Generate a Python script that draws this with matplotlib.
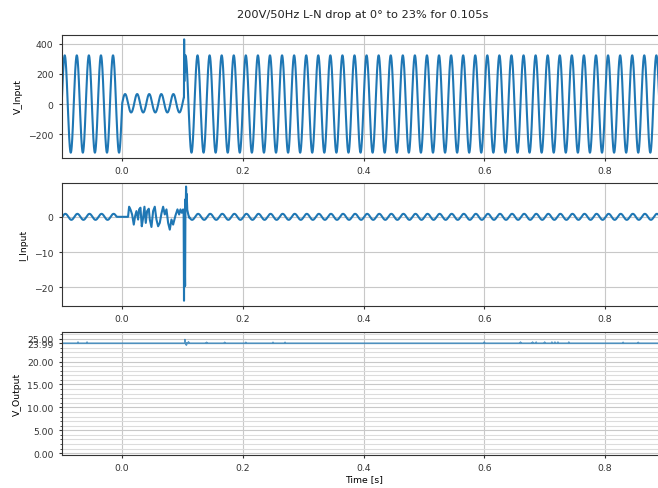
import numpy as np
import matplotlib
matplotlib.use("Agg")
import matplotlib.pyplot as plt
from matplotlib.ticker import FormatStrFormatter, MultipleLocator, FixedLocator

# ---------------- data ----------------
title = "200V/50Hz L-N drop at 0\u00b0 to 23% for 0.105s"
x_ticks = [0.0, 0.2, 0.4, 0.6, 0.8]
t_start, t_end = -0.1, 0.9
line_freq = 50.0                      # Hz

# input voltage
v_peak_normal = 322.0                 # V, normal sine peak
v_drop_pos_peak = 66.0                # V, positive peak during sag
v_drop_neg_peak = -56.0               # V, negative peak during sag
v_drop_start, v_drop_end = 0.0, 0.1025
v_spike_t = [0.1025, 0.1028, 0.1031, 0.1034, 0.1037, 0.1040]
v_spike_v = [45.0, 428.0, 150.0, 280.0, 210.0, 300.0]

# input current
i_ripple_amp = 0.85                   # A
i_ripple_peak_t = 0.006               # s, time of a ripple maximum
i_flat_start, i_flat_end = -0.009, 0.0099
i_burst_t = [0.0099, 0.01166, 0.01387, 0.01663, 0.01939, 0.0216, 0.02381, 0.02657,
             0.02823, 0.03044, 0.03265, 0.03486, 0.03707, 0.03928, 0.04149, 0.04425,
             0.04591, 0.04867, 0.05143, 0.05419, 0.05695, 0.05972, 0.06248, 0.06524,
             0.068, 0.07077, 0.07353, 0.07629, 0.07905, 0.08181, 0.08457, 0.08845,
             0.09176, 0.09452, 0.09673, 0.09894, 0.10115, 0.1020, 0.1023, 0.1026,
             0.1029, 0.1032, 0.1035, 0.1038, 0.1041, 0.1044, 0.1047, 0.1050,
             0.1055, 0.1060, 0.1065, 0.1070, 0.1080, 0.1095, 0.1110]
i_burst_v = [0.0, 2.87, 2.11, 0.67, -2.2, 0.19, 1.63, -0.77,
             2.11, 2.59, -2.68, -0.29, 2.87, -1.72, 1.63, 2.3,
             -0.77, -2.87, 1.63, 2.87, -0.77, -2.68, -1.72, 0.96,
             2.87, 0.67, 2.11, -1.72, -3.64, -0.77, -2.2, 0.38,
             2.11, 0.67, 2.11, 1.15, 2.11, 1.0, -10.0, -23.8,
             -12.0, -19.8, -14.0, -19.5, -16.0, -19.6, -3.0, 5.0,
             2.0, 8.6, 4.0, 6.5, 2.0, 0.8, -0.2]

# output voltage
v_out_level = 23.99
v_out_blip_t = [-0.073, -0.058, 0.104, 0.1065, 0.110, 0.14, 0.17, 0.205, 0.25,
                0.27, 0.60, 0.66, 0.68, 0.686, 0.70, 0.712, 0.717, 0.722, 0.74,
                0.83, 0.855]
v_out_blip_v = [0.25, 0.25, 0.8, -0.4, 0.3, 0.2, 0.2, 0.2, 0.2,
                0.2, 0.25, 0.25, 0.25, 0.25, 0.25, 0.25, 0.25, 0.25, 0.25,
                0.2, 0.2]

y_out_ticks = [0.0, 5.0, 10.0, 15.0, 20.0, 25.0, 23.99]

# ---------------- build the traces ----------------
dt = 0.0001
t = np.arange(t_start, t_end + dt / 2, dt)
w = 2 * np.pi * line_freq
s = np.sin(w * t)

v_in = v_peak_normal * s
in_drop = (t >= v_drop_start) & (t < v_drop_end)
v_in[in_drop] = np.where(s[in_drop] >= 0, v_drop_pos_peak * s[in_drop],
                         -v_drop_neg_peak * s[in_drop])
t_v = np.concatenate([t[t < v_spike_t[0]], v_spike_t, t[t > v_spike_t[-1]]])
v_v = np.concatenate([v_in[t < v_spike_t[0]], v_spike_v, v_in[t > v_spike_t[-1]]])

i_in = i_ripple_amp * np.cos(w * (t - i_ripple_peak_t))
flat = (t >= i_flat_start) & (t < i_flat_end)
t_i = np.concatenate([t[t < i_flat_start], t[flat], i_burst_t, t[t > i_burst_t[-1]]])
v_i = np.concatenate([i_in[t < i_flat_start], np.zeros(flat.sum()), i_burst_v,
                      i_in[t > i_burst_t[-1]]])

v_out = np.full_like(t, v_out_level)
for bt, bv in zip(v_out_blip_t, v_out_blip_v):
    idx = int(round((bt - t_start) / dt))
    v_out[idx] += bv

# ---------------- plotting ----------------
plt.rcParams['font.family'] = ['DejaVu Sans']
plt.rcParams['font.size'] = 6.7
plt.rcParams['axes.linewidth'] = 0.8
plt.rcParams['axes.edgecolor'] = '#333333'
plt.rcParams['xtick.color'] = '#333333'
plt.rcParams['ytick.color'] = '#333333'
plt.rcParams['xtick.major.size'] = 2.4
plt.rcParams['ytick.major.size'] = 2.4
plt.rcParams['ytick.minor.size'] = 1.4

fig = plt.figure(figsize=(6.58, 4.89), dpi=100)
W, H = 658.0, 489.0
left = 61.7 / W
width = (665.4 - 61.7) / W
ax_h = 123.0 / H
ax1 = fig.add_axes([left, 1 - 158.5 / H, width, ax_h])
ax2 = fig.add_axes([left, 1 - 307.0 / H, width, ax_h])
ax3 = fig.add_axes([left, 1 - 456.0 / H, width, ax_h])

blue = '#1f77b4'
ax1.plot(t_v, v_v, color=blue, lw=1.5)
ax2.plot(t_i, v_i, color=blue, lw=1.5)
ax3.plot(t, v_out, color=blue, lw=1.2, alpha=0.75)

grid_kw = dict(color='#c8c8c8', lw=0.8)
for ax in (ax1, ax2, ax3):
    ax.set_xlim(t_start, t_end)
    ax.set_xticks(x_ticks)
    ax.xaxis.set_major_formatter(FormatStrFormatter('%.1f'))
    ax.grid(True, which='major', **grid_kw)
    ax.set_axisbelow(True)

ax1.set_ylim(-354, 460)
ax1.set_yticks([-200, 0, 200, 400])
ax1.set_ylabel('V_Input')

ax2.set_ylim(-25.3, 9.6)
ax2.set_yticks([-20, -10, 0])
ax2.set_ylabel('I_Input')

ax3.set_ylim(-0.4, 26.45)
ax3.yaxis.set_major_locator(FixedLocator(y_out_ticks))
ax3.yaxis.set_major_formatter(FormatStrFormatter('%.2f'))
ax3.yaxis.set_minor_locator(MultipleLocator(1.0))
ax3.grid(True, which='minor', axis='y', color='#dcdcdc', lw=0.8)
ax3.set_ylabel('V_Output')
ax3.set_xlabel('Time [s]', labelpad=1.5)

fig.text(363 / W, 1 - 15.5 / H, title, ha='center', va='center', fontsize=8.2,
         color='#222222')

fig.savefig('out.png', dpi=100)
